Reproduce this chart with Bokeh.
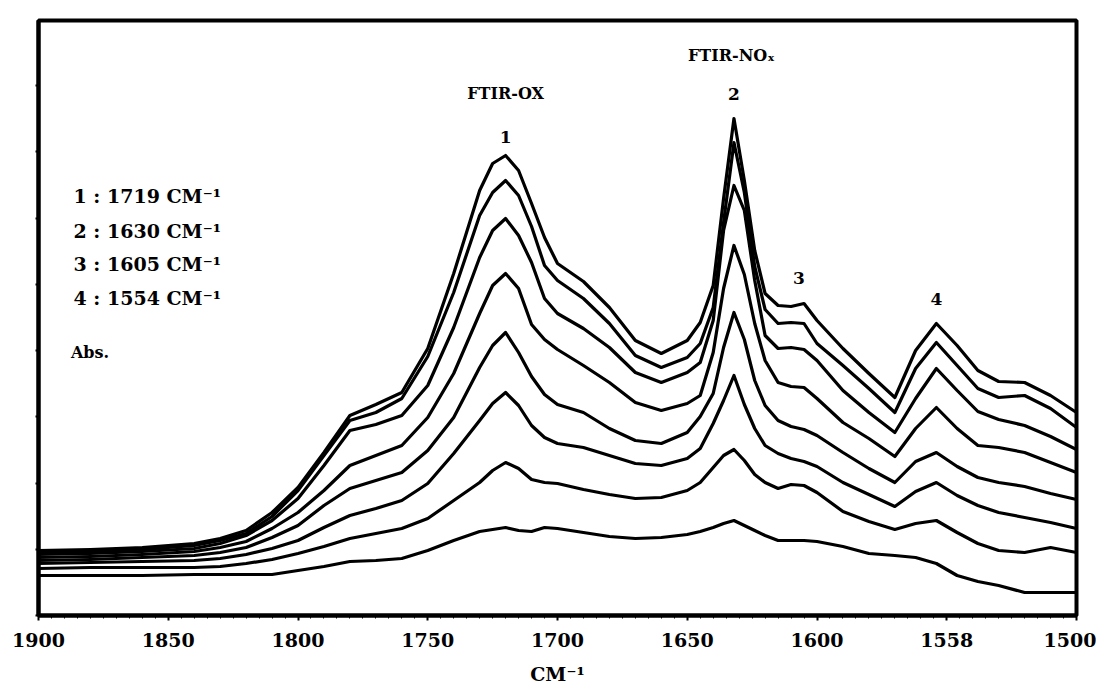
from bokeh.plotting import figure
from bokeh.models import Range1d, FixedTicker, Label
from bokeh.embed import file_html
from bokeh.resources import INLINE

# Wavenumber samples (cm-1)
wavenumber = [1900, 1880, 1860, 1840, 1830, 1820, 1810, 1800, 1790, 1780, 1770, 1760,
              1750, 1740, 1730, 1725, 1720, 1715, 1710, 1705, 1700, 1690, 1680, 1670,
              1660, 1650, 1645, 1640, 1636, 1632, 1628, 1624, 1620, 1615, 1610, 1605,
              1600, 1590, 1580, 1570, 1562, 1554, 1546, 1538, 1530, 1520, 1510, 1500]

# Absorbance spectra (arbitrary units), top curve first
abs_1 = [0.130, 0.132, 0.136, 0.144, 0.154, 0.170, 0.206, 0.256, 0.326, 0.400, 0.422, 0.446,
         0.534, 0.684, 0.850, 0.904, 0.920, 0.890, 0.824, 0.756, 0.704, 0.668, 0.616, 0.550,
         0.524, 0.550, 0.586, 0.660, 0.834, 0.994, 0.870, 0.730, 0.644, 0.620, 0.618, 0.624,
         0.590, 0.534, 0.484, 0.436, 0.530, 0.584, 0.540, 0.490, 0.468, 0.466, 0.440, 0.406]
abs_2 = [0.126, 0.128, 0.132, 0.140, 0.150, 0.164, 0.198, 0.250, 0.320, 0.390, 0.406, 0.434,
         0.518, 0.646, 0.800, 0.846, 0.870, 0.840, 0.778, 0.700, 0.670, 0.634, 0.584, 0.520,
         0.496, 0.516, 0.544, 0.616, 0.786, 0.946, 0.846, 0.698, 0.612, 0.584, 0.586, 0.584,
         0.544, 0.500, 0.454, 0.406, 0.494, 0.546, 0.500, 0.454, 0.436, 0.440, 0.414, 0.376]
abs_3 = [0.122, 0.124, 0.128, 0.134, 0.144, 0.160, 0.190, 0.234, 0.300, 0.370, 0.382, 0.400,
         0.460, 0.576, 0.716, 0.770, 0.794, 0.760, 0.706, 0.634, 0.604, 0.574, 0.536, 0.486,
         0.466, 0.486, 0.506, 0.590, 0.770, 0.860, 0.810, 0.670, 0.560, 0.534, 0.536, 0.532,
         0.510, 0.450, 0.406, 0.366, 0.434, 0.494, 0.450, 0.408, 0.392, 0.380, 0.358, 0.332]
abs_4 = [0.116, 0.118, 0.122, 0.128, 0.136, 0.148, 0.174, 0.206, 0.250, 0.300, 0.320, 0.340,
         0.396, 0.484, 0.604, 0.660, 0.684, 0.654, 0.582, 0.552, 0.532, 0.500, 0.466, 0.426,
         0.410, 0.424, 0.440, 0.526, 0.654, 0.740, 0.682, 0.584, 0.510, 0.466, 0.458, 0.456,
         0.434, 0.386, 0.354, 0.318, 0.374, 0.416, 0.374, 0.340, 0.336, 0.326, 0.306, 0.286]
abs_5 = [0.110, 0.112, 0.116, 0.120, 0.126, 0.136, 0.156, 0.180, 0.220, 0.254, 0.270, 0.286,
         0.330, 0.396, 0.496, 0.540, 0.566, 0.526, 0.478, 0.442, 0.422, 0.406, 0.374, 0.350,
         0.344, 0.366, 0.398, 0.444, 0.536, 0.606, 0.552, 0.470, 0.420, 0.390, 0.378, 0.372,
         0.360, 0.326, 0.294, 0.266, 0.308, 0.326, 0.298, 0.276, 0.266, 0.258, 0.244, 0.232]
abs_6 = [0.104, 0.106, 0.108, 0.110, 0.114, 0.122, 0.134, 0.150, 0.176, 0.200, 0.214, 0.230,
         0.264, 0.324, 0.390, 0.424, 0.446, 0.420, 0.380, 0.356, 0.344, 0.336, 0.320, 0.304,
         0.300, 0.314, 0.334, 0.384, 0.430, 0.480, 0.422, 0.374, 0.340, 0.324, 0.314, 0.308,
         0.298, 0.266, 0.242, 0.218, 0.248, 0.266, 0.240, 0.220, 0.206, 0.196, 0.186, 0.174]
abs_7 = [0.094, 0.096, 0.096, 0.096, 0.098, 0.104, 0.112, 0.124, 0.138, 0.154, 0.164, 0.174,
         0.194, 0.230, 0.266, 0.290, 0.306, 0.294, 0.272, 0.266, 0.264, 0.252, 0.242, 0.234,
         0.236, 0.250, 0.266, 0.296, 0.320, 0.332, 0.310, 0.282, 0.266, 0.254, 0.262, 0.260,
         0.246, 0.208, 0.188, 0.172, 0.184, 0.190, 0.166, 0.144, 0.130, 0.126, 0.136, 0.126]
abs_8 = [0.080, 0.080, 0.080, 0.082, 0.082, 0.082, 0.082, 0.090, 0.098, 0.108, 0.110, 0.114,
         0.130, 0.150, 0.168, 0.172, 0.176, 0.170, 0.168, 0.176, 0.174, 0.166, 0.158, 0.154,
         0.156, 0.162, 0.168, 0.176, 0.184, 0.190, 0.180, 0.170, 0.160, 0.150, 0.150, 0.150,
         0.148, 0.138, 0.124, 0.120, 0.116, 0.104, 0.080, 0.068, 0.060, 0.046, 0.046, 0.046]

x_tick_values = [1900, 1850, 1800, 1750, 1700, 1650, 1600, 1550, 1500]
x_tick_labels = ["1900", "1850", "1800", "1750", "1700", "1650", "1600", "1558", "1500"]

peak_labels = ["1", "2", "3", "4"]
peak_positions = [1720, 1632, 1607, 1554]
peak_heights = [0.958, 1.044, 0.676, 0.634]

legend_lines = ["1 : 1719 CM\u207b\u00b9", "2 : 1630 CM\u207b\u00b9",
                "3 : 1605 CM\u207b\u00b9", "4 : 1554 CM\u207b\u00b9"]
legend_heights = [0.840, 0.770, 0.704, 0.636]

FONT = "DejaVu Serif"

p = figure(width=1096, height=690,
           x_range=Range1d(1900, 1500), y_range=Range1d(0, 1.19),
           output_backend="svg", toolbar_location=None,
           min_border_left=38, min_border_right=20,
           min_border_top=20, min_border_bottom=75)

p.background_fill_color = "white"
p.border_fill_color = "white"
p.outline_line_color = "black"
p.outline_line_width = 4
p.grid.visible = False

# x axis
minor = [v for v in range(1500, 1901, 5) if v % 50 != 0]
p.xaxis.ticker = FixedTicker(ticks=x_tick_values, minor_ticks=minor)
p.xaxis.major_label_overrides = dict(zip(x_tick_values, x_tick_labels))
p.xaxis.axis_line_width = 4
p.xaxis.axis_line_color = "black"
p.xaxis.major_tick_out = 5
p.xaxis.major_tick_in = 0
p.xaxis.major_tick_line_width = 2
p.xaxis.minor_tick_out = 3
p.xaxis.minor_tick_in = 0
p.xaxis.minor_tick_line_width = 1
p.xaxis.major_label_standoff = 12
p.xaxis.major_label_text_font = FONT
p.xaxis.major_label_text_font_style = "bold"
p.xaxis.major_label_text_font_size = "19px"
p.xaxis.major_label_text_color = "black"
p.xaxis.axis_label = "CM\u207b\u00b9"
p.xaxis.axis_label_text_font = FONT
p.xaxis.axis_label_text_font_style = "bold"
p.xaxis.axis_label_text_font_size = "19px"
p.xaxis.axis_label_text_color = "black"
p.xaxis.axis_label_standoff = 13

# y axis: ticks only, no labels
y_ticks = [round(i * 0.1325, 4) for i in range(9)]
p.yaxis.ticker = FixedTicker(ticks=y_ticks)
p.yaxis.major_label_overrides = {t: "" for t in y_ticks}
p.yaxis.major_label_text_color = None
p.yaxis.major_label_standoff = 0
p.yaxis.axis_line_width = 4
p.yaxis.axis_line_color = "black"
p.yaxis.major_tick_out = 3
p.yaxis.major_tick_in = 0
p.yaxis.major_tick_line_width = 2
p.yaxis.minor_tick_line_color = None

for series in [abs_1, abs_2, abs_3, abs_4, abs_5, abs_6, abs_7, abs_8]:
    p.line(wavenumber, series, line_color="black", line_width=3.2,
           line_join="round", line_cap="round")

def add_label(x, y, text, size, align="center"):
    p.add_layout(Label(x=x, y=y, text=text, text_font=FONT, text_font_style="bold",
                       text_font_size=size, text_color="black",
                       text_align=align, text_baseline="middle"))

for lab, xp, yp in zip(peak_labels, peak_positions, peak_heights):
    add_label(xp, yp, lab, "17px")

add_label(1720, 1.044, "FTIR-OX", "16px")
add_label(1633, 1.120, "FTIR-NO\u2093", "16px")

for txt, yp in zip(legend_lines, legend_heights):
    add_label(1886.5, yp, txt, "19px", align="left")
add_label(1887.5, 0.526, "Abs.", "16px", align="left")

open("out.html", "w").write(file_html(p, INLINE))
